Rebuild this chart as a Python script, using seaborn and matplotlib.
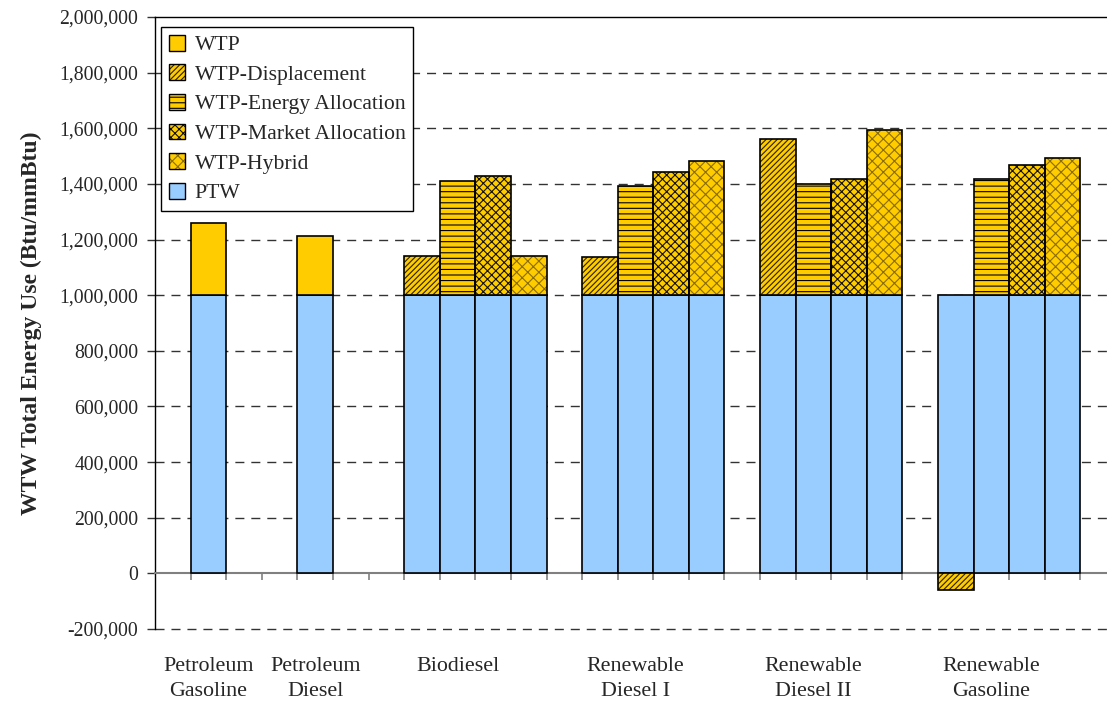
import numpy as np
import pandas as pd
import matplotlib
matplotlib.use("Agg")
import matplotlib.pyplot as plt
from matplotlib.patches import Patch
from matplotlib.legend_handler import HandlerTuple
from matplotlib.ticker import FuncFormatter
import seaborn as sns

# ---- data -------------------------------------------------------------
fuels = ["Petroleum\nGasoline", "Petroleum\nDiesel", "Biodiesel",
         "Renewable\nDiesel I", "Renewable\nDiesel II", "Renewable\nGasoline"]
ptw = [1000000, 1000000, 1000000, 1000000, 1000000, 1000000]

# conventional fuels: a single well-to-pump value
petroleum_wtp = [260000, 214000]

# renewable fuels: one well-to-pump value per co-product method
methods = ["WTP-Displacement", "WTP-Energy Allocation",
           "WTP-Market Allocation", "WTP-Hybrid"]
wtp_displacement = [141000, 137000, 561000, -60000]
wtp_energy = [409000, 391000, 400000, 417000]
wtp_market = [427000, 442000, 417000, 468000]
wtp_hybrid = [141000, 483000, 594000, 493000]

y_ticks = [-200000, 0, 200000, 400000, 600000, 800000, 1000000,
           1200000, 1400000, 1600000, 1800000, 2000000]

# ---- layout (category slots along the x axis) ------------------------
n_slots = 27
petroleum_slots = [1, 4]
group_starts = [7, 12, 17, 22]
label_slots = [1, 4, 8, 13, 18, 23]

GOLD = "#FFCC00"
BLUE = "#99CCFF"
hatch_styles = {
    "WTP-Displacement": ("//////", "#2a2000"),
    "WTP-Energy Allocation": ("---", "#000000"),
    "WTP-Market Allocation": ("xxxx", "#141000"),
    "WTP-Hybrid": ("xxx", "#8a6c00"),
}

sns.set_style("white")
plt.rcParams["font.family"] = ["Liberation Serif", "DejaVu Serif"]
plt.rcParams["hatch.linewidth"] = 0.8

# assemble tidy tables
ptw_rows, wtp_rows = [], []
for i, slot in enumerate(petroleum_slots):
    ptw_rows.append({"slot": slot, "fuel": fuels[i], "value": ptw[i]})
    wtp_rows.append({"slot": slot, "fuel": fuels[i], "method": "WTP",
                     "value": petroleum_wtp[i]})
method_values = [wtp_displacement, wtp_energy, wtp_market, wtp_hybrid]
for j, start in enumerate(group_starts):
    fi = j + 2
    for k, m in enumerate(methods):
        ptw_rows.append({"slot": start + k, "fuel": fuels[fi], "value": ptw[fi]})
        wtp_rows.append({"slot": start + k, "fuel": fuels[fi], "method": m,
                         "value": method_values[k][j]})
ptw_df = pd.DataFrame(ptw_rows)
wtp_df = pd.DataFrame(wtp_rows)

fig = plt.figure(figsize=(11.07, 7.04), dpi=100)
ax = fig.add_axes([155 / 1107, 75 / 704, 961 / 1107, 612 / 704])

# pump-to-wheels base bars
sns.barplot(data=ptw_df, x="slot", y="value", native_scale=True, width=1,
            color=BLUE, saturation=1, edgecolor="black", linewidth=1.2,
            errorbar=None, ax=ax, zorder=3)

# well-to-pump segments stacked on top (negative values hang below zero)
for _, r in wtp_df.iterrows():
    v = r["value"]
    base_ptw = ptw[fuels.index(r["fuel"])]
    if r["method"] == "WTP":
        ax.bar(r["slot"], v, bottom=base_ptw, width=1,
               color=GOLD, edgecolor="black", linewidth=1.2, zorder=3)
        continue
    base = base_ptw if v >= 0 else 0
    pat, hc = hatch_styles[r["method"]]
    ax.bar(r["slot"], v, bottom=base, width=1, facecolor=GOLD,
           edgecolor=hc, linewidth=0, hatch=pat, zorder=3)
    ax.bar(r["slot"], v, bottom=base, width=1, facecolor="none",
           edgecolor="black", linewidth=1.2, zorder=3.1)

# axes styling
ax.set_xlim(-0.5, n_slots - 0.5)
ax.set_ylim(y_ticks[0], y_ticks[-1])
ax.set_yticks(y_ticks)
ax.yaxis.set_major_formatter(FuncFormatter(lambda v, p: f"{v:,.0f}"))
for t in y_ticks[:-1]:
    if t != 0:
        ax.axhline(t, color="#333333", linewidth=1.0,
                   linestyle=(0, (6.5, 5)), zorder=0.5, clip_on=False)

ax.spines["right"].set_visible(False)
ax.spines["top"].set_color("black")
ax.spines["left"].set_color("black")
ax.spines["top"].set_linewidth(1.0)
ax.spines["left"].set_linewidth(1.0)
ax.spines["bottom"].set_position(("data", 0))
ax.spines["bottom"].set_color("#808080")
ax.spines["bottom"].set_linewidth(1.5)
ax.spines["bottom"].set_zorder(2.5)

ax.set_xticks(np.arange(0.5, n_slots - 1, 1.0))
ax.set_xticklabels([])
ax.set_xlabel("")
ax.tick_params(axis="x", direction="out", length=5, width=1.2,
               color="#808080", bottom=True)
ax.tick_params(axis="y", direction="out", length=5.5, width=1.0,
               color="#333333", left=True, pad=6.5, labelsize=14.2)

# category labels below the plotting area
for slot, name in zip(label_slots, fuels):
    ax.text(slot, -0.045, name, transform=ax.get_xaxis_transform(),
            ha="center", va="top", fontsize=15.8, linespacing=1.45,
            multialignment="center")

ax.set_ylabel("WTW Total Energy Use (Btu/mmBtu)", fontsize=17,
              fontweight="bold")
ax.yaxis.set_label_coords(-0.1176, 0.5)

# legend: hatched entries overlay a hatch layer and a black outline
handles = [Patch(facecolor=GOLD, edgecolor="black", linewidth=1.0)]
labels = ["WTP"]
for m in methods:
    pat, hc = hatch_styles[m]
    handles.append((Patch(facecolor=GOLD, edgecolor=hc, linewidth=0, hatch=pat),
                    Patch(facecolor="none", edgecolor="black", linewidth=1.0)))
    labels.append(m)
handles.append(Patch(facecolor=BLUE, edgecolor="black", linewidth=1.0))
labels.append("PTW")
leg = ax.legend(handles, labels, loc="upper left",
                bbox_to_anchor=(6 / 961, 1 - 10 / 612), borderaxespad=0,
                fontsize=15.6, handlelength=0.75, handleheight=0.75,
                handletextpad=0.45, labelspacing=0.42, borderpad=0.36,
                fancybox=False, framealpha=1, edgecolor="black",
                handler_map={tuple: HandlerTuple(ndivide=1, pad=0)})
leg.get_frame().set_linewidth(1.0)
leg.set_zorder(5)

fig.savefig("out.png", dpi=100)
